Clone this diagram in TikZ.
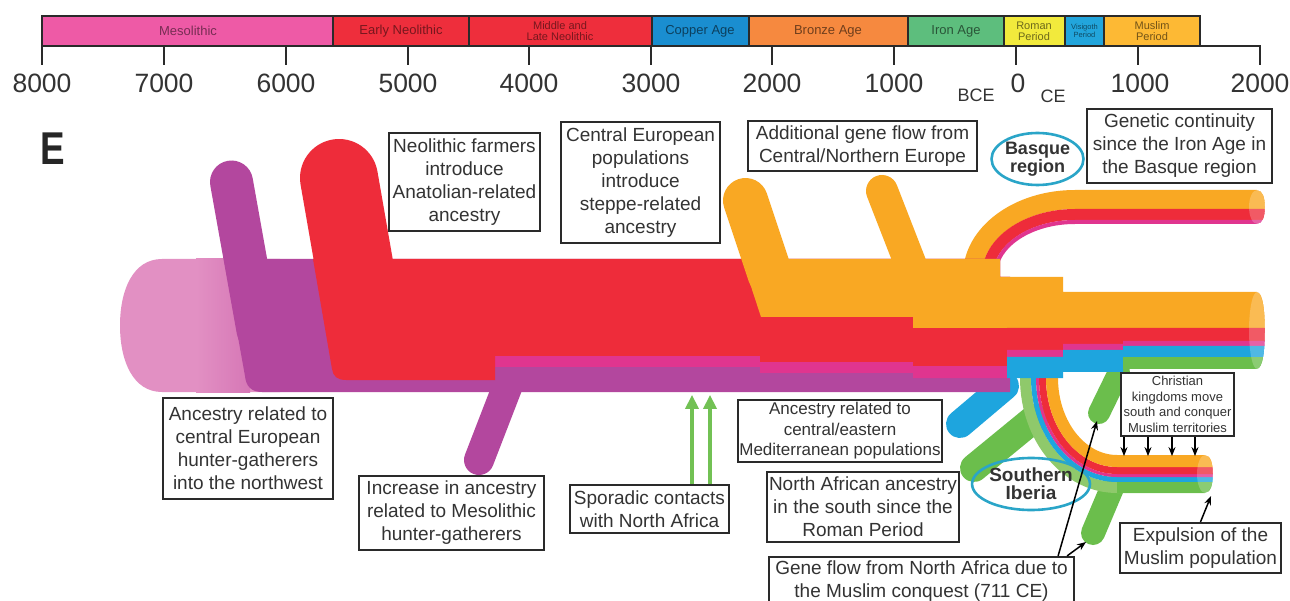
\documentclass[tikz,border=0pt]{standalone}
\usepackage{fontspec}
\setmainfont{Liberation Sans}
\usetikzlibrary{arrows.meta,shapes.geometric}
\newcommand\myfs[2]{\fontsize{#1}{#2}\selectfont}
\definecolor{cMeso}{HTML}{EE5AA6}
\definecolor{cNeo}{HTML}{EE2E3C}
\definecolor{cCop}{HTML}{1A8ED0}
\definecolor{cBro}{HTML}{F6893F}
\definecolor{cIron}{HTML}{5DBE7D}
\definecolor{cRom}{HTML}{F2EA3C}
\definecolor{cVis}{HTML}{22A5DC}
\definecolor{cMus}{HTML}{FDB934}
\definecolor{pale}{HTML}{E290C3}
\definecolor{paled}{HTML}{D677B6}
\definecolor{purp}{HTML}{B3479E}
\definecolor{redA}{HTML}{EE2C3A}
\definecolor{mag}{HTML}{E0358F}
\definecolor{org}{HTML}{F9A823}
\definecolor{blu}{HTML}{1EA5DE}
\definecolor{grn}{HTML}{6BBE4C}
\definecolor{lgrn}{HTML}{8FC96B}
\definecolor{ellc}{HTML}{2AA5C8}
\definecolor{boxln}{HTML}{2A2A2A}
\definecolor{txt}{HTML}{333333}
\definecolor{arrg}{HTML}{72C154}
\begin{document}
\begin{tikzpicture}[x=1pt,y=-1pt,
  box/.style={draw=boxln, line width=2.2pt, fill=white, align=center, inner sep=0pt, text=txt, font=\myfs{19}{23}},
  tick/.style={draw=boxln, line width=1.6pt},
  num/.style={text=txt, font=\myfs{26.5}{28}, inner sep=0pt},
  tlab/.style={font=\myfs{13}{13}, align=center, inner sep=0pt},
  tlab2/.style={font=\myfs{11}{11}, align=center, inner sep=0pt},
  region/.style={draw=ellc, line width=2.6pt, align=center, inner sep=0pt, font=\myfs{18}{18.5}\bfseries, text=txt},
  blackarr/.style={draw=black, line width=1.5pt, -{Stealth[length=9pt,width=7pt]}},
  greenarr/.style={draw=arrg, line width=3.5pt, -{Triangle[length=14pt,width=13pt]}},
  tube/.style={line cap=round}]
\useasboundingbox (0,0) rectangle (1290,601);
\fill[white] (0,0) rectangle (1290,601);

% ---------------- timeline ----------------
\fill[cMeso] (42,16) rectangle (333,46);
\fill[cNeo] (333,16) rectangle (652,46);
\fill[cCop] (652,16) rectangle (749,46);
\fill[cBro] (749,16) rectangle (908,46);
\fill[cIron] (908,16) rectangle (1004,46);
\fill[cRom] (1004,16) rectangle (1065,46);
\fill[cVis] (1065,16) rectangle (1104,46);
\fill[cMus] (1104,16) rectangle (1200,46);
\draw[tick] (42,16) rectangle (1200,46);
\foreach \x in {333,469,652,749,908,1004,1065,1104} \draw[tick] (\x,16) -- (\x,46);
\draw[tick] (42,46) -- (42,65);
\foreach \x in {164,286,408,529,651,772,894,1016,1138} \draw[tick] (\x,46) -- (\x,65);
\draw[tick] (1200,46) -- (1260,46) -- (1260,65);

\node[tlab, text=black!50!cMeso] (lmeso) at (188,31) {Mesolithic};
\node[tlab, text=black!50!cNeo] (len) at (401,31) {Early Neolithic};
\node[tlab2, text=black!50!cNeo] (lml) at (560,31) {Middle and\\Late Neolithic};
\node[tlab, text=black!55!cCop] (lcop) at (700,31) {Copper Age};
\node[tlab, text=black!55!cBro] (lbro) at (828,31) {Bronze Age};
\node[tlab, text=black!55!cIron] (liron) at (956,31) {Iron Age};
\node[tlab2, text=black!55!cRom] (lrom) at (1034,31) {Roman\\Period};
\node[tlab2, font=\myfs{7.5}{8.5}, text=black!55!cVis] (lvis) at (1084.5,31) {Visigoth\\Period};
\node[tlab2, text=black!55!cMus] (lmus) at (1152,31) {Muslim\\Period};

\node[num] (n8) at (42,83) {8000};
\node[num] (n7) at (164,83) {7000};
\node[num] (n6) at (286,83) {6000};
\node[num] (n5) at (408,83) {5000};
\node[num] (n4) at (529,83) {4000};
\node[num] (n3) at (651,83) {3000};
\node[num] (n2) at (772,83) {2000};
\node[num] (n1) at (894,83) {1000};
\node[num] (n0) at (1018,83) {0};
\node[num] (c1) at (1140,83) {1000};
\node[num] (c2) at (1260,83) {2000};
\node[num, font=\myfs{18}{18}] (bce) at (976,95) {BCE};
\node[num, font=\myfs{18}{18}] (ce) at (1053,96) {CE};

\node[font=\myfs{46}{46}\bfseries, text=black!85, inner sep=0pt] (E) at (52.5,148.5) {\scalebox{0.8}[1]{E}};

% ---------------- lower branches (under curves) ----------------
\draw[blu, line width=28pt, tube] (960,424) -- (1005,386);
\draw[grn, line width=28pt, tube] (974,468) -- (1035,418);
\draw[grn, line width=24pt, tube] (1093,533) -- (1112,488);
\draw[grn, line width=22pt, tube] (1099,413) -- (1119,372);

% ---------------- southern curve ----------------
\draw[lgrn, line width=11pt] (1025.5,368) -- (1025.5,378) .. controls (1025.5,438.5) and (1066.5,487.5) .. (1117,487.5) -- (1220,487.5);
\draw[blu, line width=5pt] (1033.5,368) -- (1033.5,378) .. controls (1033.5,434.1) and (1070.9,479.5) .. (1117,479.5) -- (1220,479.5);
\draw[mag, line width=3pt] (1037.5,368) -- (1037.5,378) .. controls (1037.5,431.8) and (1073.1,475.5) .. (1117,475.5) -- (1220,475.5);
\draw[redA, line width=7pt] (1042.5,368) -- (1042.5,378) .. controls (1042.5,429.1) and (1075.9,470.5) .. (1117,470.5) -- (1220,470.5);
\draw[org, line width=12pt] (1052,368) -- (1052,378) .. controls (1052,423.8) and (1081.1,461) .. (1117,461) -- (1220,461);
\fill[grn] (1117,482) rectangle (1220,493);

% ---------------- basque curve ----------------
\draw[org, line width=19pt] (972.5,285) -- (972.5,275) .. controls (972.5,233.3) and (1018.4,199.5) .. (1075,199.5) -- (1275,199.5);
\draw[redA, line width=11pt] (987.5,285) -- (987.5,275) .. controls (987.5,241.6) and (1026.7,214.5) .. (1075,214.5) -- (1275,214.5);
\draw[mag, line width=4pt] (995,285) -- (995,275) .. controls (995,245.7) and (1030.8,222) .. (1075,222) -- (1275,222);

% ---------------- main trunk ----------------
\fill[pale] (280,259) -- (162,259) .. controls (133,259) and (120,290) .. (120,325.5) .. controls (120,361) and (133,392) .. (162,392) -- (280,392) -- cycle;
\shade[left color=pale, right color=paled] (196,259) rectangle (250,392);
\draw[purp, line width=30pt, tube] (479,460) -- (508,385);
\fill[purp] (224,259) -- (1000,259) -- (1000,277) -- (1010,277) -- (1010,392) -- (262,392) .. controls (251,392) and (246,386) .. (245,376) -- cycle;
\draw[purp, line width=43pt, tube] (231.5,182) -- (258,330);
\fill[mag] (495,355) -- (1010,355) -- (1010,378) -- (913,378) -- (913,373) -- (760,373) -- (760,367) -- (495,367) -- cycle;
\draw[redA, line width=78pt, tube] (339,178) -- (362,310);
\fill[redA] (313,259) -- (1000,259) -- (1000,277) -- (1010,277) -- (1010,366) -- (913,366) -- (913,362) -- (760,362) -- (760,356) -- (495,356) -- (495,380) -- (346,380) .. controls (337,380) and (333,376) .. (332,369) -- cycle;
\draw[org, line width=45pt, tube] (745.5,200.5) -- (770,274);
\fill[org] (742,259) -- (1000,259) -- (1000,277) -- (1063,277) -- (1063,292) -- (1275,292) -- (1275,328) -- (913,328) -- (913,317) -- (761,317) -- cycle;
\draw[org, line width=32pt, tube] (882,191) -- (912,268);
\fill[redA] (1007,328) -- (1275,328) -- (1275,341) -- (1123,341) -- (1123,344) -- (1063,344) -- (1063,350) -- (1007,350) -- cycle;
\fill[mag] (1007,350) -- (1063,350) -- (1063,344) -- (1123,344) -- (1123,341) -- (1275,341) -- (1275,346) -- (1123,346) -- (1123,350) -- (1063,350) -- (1063,357) -- (1007,357) -- cycle;
\fill[blu] (1007,357) -- (1063,357) -- (1063,350) -- (1123,350) -- (1123,346) -- (1275,346) -- (1275,357) -- (1123,357) -- (1123,372) -- (1063,372) -- (1063,378) -- (1007,378) -- cycle;
\fill[grn] (1123,357) rectangle (1275,369);

% ---------------- rounded tube ends ----------------
\fill[white] (1257,292) .. controls (1263,292) and (1265,311) .. (1265,330.5) .. controls (1265,350) and (1263,369) .. (1257,369) -- (1257,375) -- (1285,375) -- (1285,286) -- (1257,286) -- cycle;
\fill[white,opacity=0.22] (1257,330.5) ellipse [x radius=8, y radius=38.5];
\fill[white] (1257,190) .. controls (1263,190) and (1265,198) .. (1265,207) .. controls (1265,216) and (1263,224) .. (1257,224) -- (1257,228) -- (1285,228) -- (1285,186) -- (1257,186) -- cycle;
\fill[white,opacity=0.22] (1257,207) ellipse [x radius=8, y radius=17];
\fill[white] (1205,455) .. controls (1211,455) and (1213,464) .. (1213,474) .. controls (1213,484) and (1211,493) .. (1205,493) -- (1205,498) -- (1230,498) -- (1230,451) -- (1205,451) -- cycle;
\fill[white,opacity=0.22] (1205,474) ellipse [x radius=8, y radius=19];

% ---------------- boxes ----------------
\node[box, minimum width=151pt, minimum height=98pt] (neo) at (464.5,182) {Neolithic farmers\\introduce\\Anatolian-related\\ancestry};
\node[box, minimum width=159pt, minimum height=121pt] (cen) at (640.5,182.5) {Central European\\populations\\introduce\\steppe-related\\ancestry};
\node[box, minimum width=229pt, minimum height=50pt] (add) at (862.5,146) {Additional gene flow from\\Central/Northern Europe};
\node[box, minimum width=185pt, minimum height=74pt] (gen) at (1179.5,146) {Genetic continuity\\since the Iron Age in\\the Basque region};
\node[region, minimum width=89pt, minimum height=52pt, ellipse] (basque) at (1037.5,159) {Basque\\region};
\node[box, minimum width=170pt, minimum height=101pt] (anc) at (248,448.5) {Ancestry related to\\central European\\hunter-gatherers\\into the northwest};
\node[box, minimum width=185pt, minimum height=74pt] (inc) at (451.5,513) {Increase in ancestry\\related to Mesolithic\\hunter-gatherers};
\node[box, minimum width=159pt, minimum height=48pt] (spo) at (649.5,509) {Sporadic contacts\\with North Africa};
\node[box, minimum width=204pt, minimum height=62pt, font=\myfs{17}{20.5}] (med) at (840,431) {Ancestry related to\\central/eastern\\Mediterranean populations};
\node[box, minimum width=192pt, minimum height=70pt] (naf) at (863,507) {North African ancestry\\in the south since the\\Roman Period};
\node[box, minimum width=305pt, minimum height=48pt] (gfl) at (921.5,581) {Gene flow from North Africa due to\\the Muslim conquest (711 CE)};
\node[box, minimum width=113pt, minimum height=63pt, font=\myfs{13}{15.5}] (chr) at (1177.5,404.5) {Christian\\kingdoms move\\south and conquer\\Muslim territories};
\node[box, minimum width=161pt, minimum height=50pt] (exp) at (1200.5,548) {Expulsion of the\\Muslim population};
\node[region, font=\myfs{19}{18}\bfseries, minimum width=96pt, minimum height=52pt, ellipse] (south) at (1031,484) {Southern\\Iberia};

% ---------------- arrows ----------------
\coordinate (g1end) at (1097,421);
\coordinate (g2end) at (1086,542);
\coordinate (expend) at (1211,496);
\draw[blackarr] ([xshift=-17pt]gfl.north east) -- (g1end);
\draw[blackarr] ([xshift=-8pt]gfl.north east) -- (g2end);
\draw[blackarr] (exp.north) -- (expend);
\foreach \d in {-53.5,-29.5,-5.5,17.5}
  \draw[blackarr, line width=1.3pt] ([xshift=\d pt]chr.south) -- ++(0,19);
\draw[greenarr] ([xshift=42.5pt]spo.north) -- ++(0,-89);
\draw[greenarr] ([xshift=60.5pt]spo.north) -- ++(0,-89);
\end{tikzpicture}
\end{document}
